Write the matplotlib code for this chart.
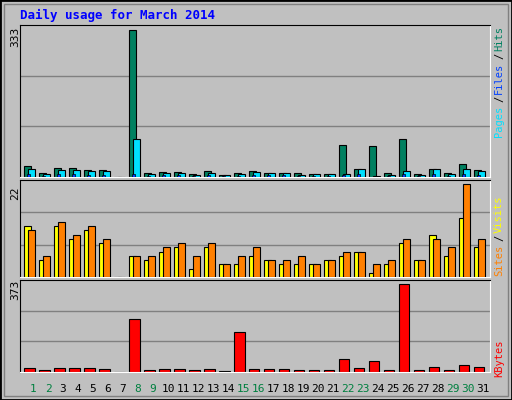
import numpy as np
import matplotlib.pyplot as plt
from matplotlib.patches import Rectangle

days = list(range(1, 32))
hits = [24, 10, 21, 21, 16, 16, 0, 331, 10, 12, 12, 7, 14, 5, 10, 14, 10, 10, 10, 7, 7, 73, 19, 70, 10, 86, 7, 19, 10, 30, 16]
files = [19, 7, 15, 15, 14, 14, 0, 86, 7, 10, 10, 5, 10, 5, 7, 12, 10, 10, 5, 7, 7, 7, 19, 2, 5, 14, 5, 19, 7, 19, 14]
pages = [7, 3, 6, 6, 5, 5, 0, 6, 3, 4, 4, 2, 5, 2, 3, 5, 4, 4, 3, 3, 3, 4, 7, 1, 3, 6, 2, 7, 3, 7, 5]
visits = [12, 4, 12, 9, 11, 8, 0, 5, 4, 6, 7, 2, 7, 3, 3, 5, 4, 3, 3, 3, 4, 5, 6, 1, 3, 8, 4, 10, 5, 14, 7]
sites = [11, 5, 13, 10, 12, 9, 0, 5, 5, 7, 8, 5, 8, 3, 5, 7, 4, 4, 5, 3, 4, 6, 6, 3, 4, 9, 4, 9, 7, 22, 9]
kbytes = [18, 10, 18, 18, 18, 14, 0, 226, 10, 14, 14, 10, 14, 5, 169, 14, 14, 14, 10, 10, 10, 54, 18, 46, 10, 373, 10, 22, 10, 30, 22]
weekend = [1, 2, 8, 9, 15, 16, 22, 23, 29, 30]

W, H = 512, 400
bg = '#C0C0C0'
fig = plt.figure(figsize=(W / 100, H / 100), dpi=100, facecolor=bg)
mono = 'DejaVu Sans Mono'

# border / bevel
fig.patches.append(Rectangle((0, 0), 1, 1, transform=fig.transFigure, fill=False, edgecolor='black', lw=2))
fig.patches.append(Rectangle((4 / W, 4 / H), (W - 8) / W, (H - 8) / H, transform=fig.transFigure, fill=False, edgecolor='#808080', lw=1))

def mk(top, bot):
    ax = fig.add_axes([20 / W, 1 - bot / H, 470 / W, (bot - top) / H])
    ax.set_facecolor(bg)
    for s in ax.spines.values():
        s.set_color('white')
    ax.spines['left'].set_color('black')
    ax.spines['top'].set_color('black')
    ax.set_xlim(0.13, 31.47)
    ax.set_xticks([])
    ax.set_yticks([])
    return ax

d = np.array(days)
ax1 = mk(25, 177)
ymax = 342
for g in (ymax / 3, 2 * ymax / 3):
    ax1.axhline(g, color='#808080', lw=1, zorder=0)
ax1.bar(d - 0.38, hits, 0.48, color='#008060', edgecolor='black', lw=0.8, zorder=2)
ax1.bar(d - 0.12, files, 0.48, color='#00E0FF', edgecolor='black', lw=0.8, zorder=3)
ax1.bar(d - 0.3, pages, 0.14, color='#0040FF', edgecolor='black', lw=0.5, zorder=4)
ax1.set_ylim(0, ymax)

ax2 = mk(180, 277)
ymax2 = 22.9
for g in (ymax2 / 3, 2 * ymax2 / 3):
    ax2.axhline(g, color='#808080', lw=1, zorder=0)
ax2.bar(d - 0.38, visits, 0.48, color='#FFFF00', edgecolor='black', lw=0.8, zorder=2)
ax2.bar(d - 0.12, sites, 0.48, color='#FF8000', edgecolor='black', lw=0.8, zorder=3)
ax2.set_ylim(0, ymax2)

ax3 = mk(280, 372)
ymax3 = 390
for g in (ymax3 / 3, 2 * ymax3 / 3):
    ax3.axhline(g, color='#808080', lw=1, zorder=0)
ax3.bar(d - 0.25, kbytes, 0.7, color='#FF0000', edgecolor='black', lw=0.8, zorder=2)
ax3.set_ylim(0, ymax3)

fig.text(20 / W, 1 - 15 / H, 'Daily usage for March 2014', color='#0000FF', family=mono, weight='bold', fontsize=9, va='center')
fig.text(15 / W, 1 - 37 / H, '333', rotation=90, family=mono, fontsize=8, ha='center', va='center')
fig.text(15 / W, 1 - 193 / H, '22', rotation=90, family=mono, fontsize=8, ha='center', va='center')
fig.text(15 / W, 1 - 290 / H, '373', rotation=90, family=mono, fontsize=8, ha='center', va='center')

def side(pieces, y0):
    y = y0
    for txt, col in pieces:
        fig.text(499 / W, 1 - y / H, txt, rotation=90, family=mono, fontsize=7.5, color=col, ha='center', va='bottom')
        y -= len(txt) * 6.8 + 1
side([('Pages', '#00E0FF'), ('/', '#000000'), ('Files', '#0040FF'), ('/', '#000000'), ('Hits', '#008060')], 137)
side([('Sites', '#FF8000'), ('/', '#000000'), ('Visits', '#FFFF00')], 276)
side([('KBytes', '#FF0000')], 377)

for i in days:
    fig.text((33 + 15 * (i - 1)) / W, 1 - 389 / H, str(i), family=mono, fontsize=8,
             color='#008040' if i in weekend else 'black', ha='center', va='center')

fig.savefig('out.png', dpi=100, facecolor=bg)
